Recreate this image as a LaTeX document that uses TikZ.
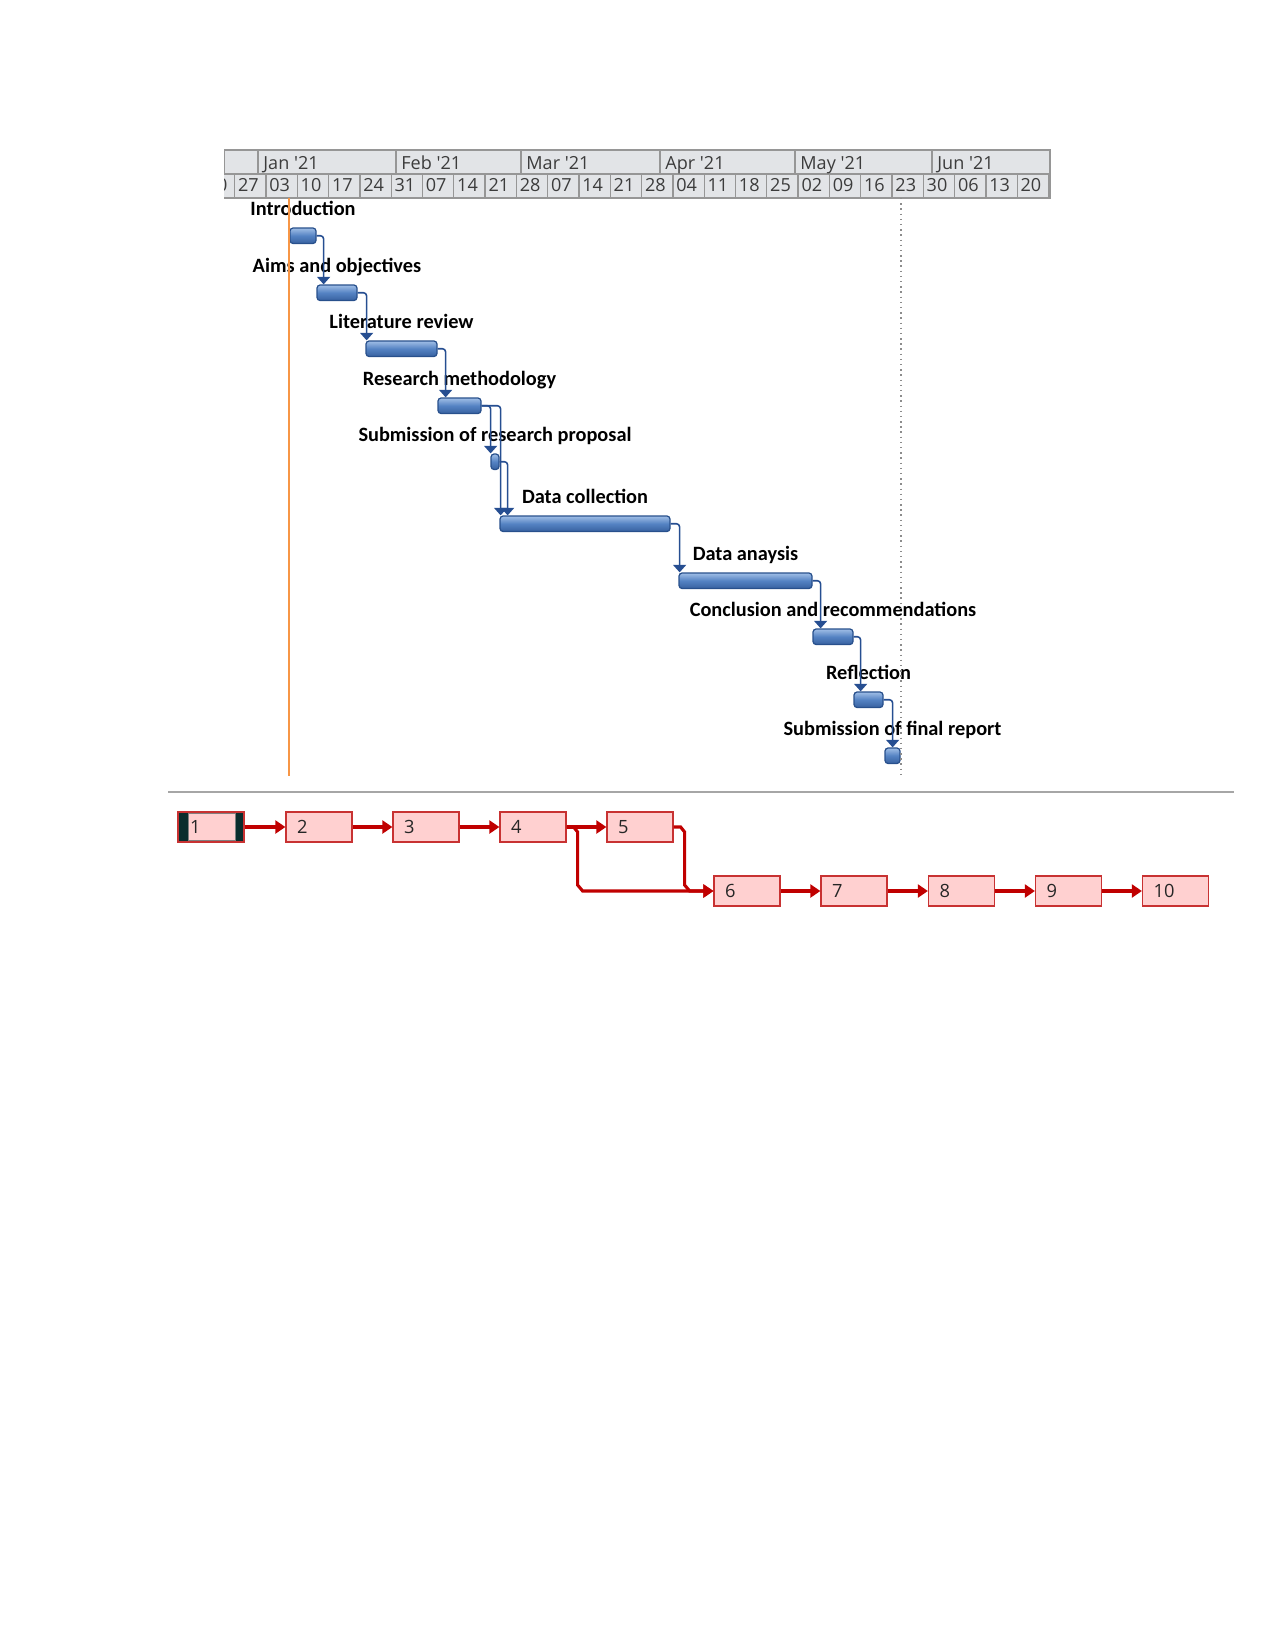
\documentclass[tikz,border=0pt]{standalone}
\usepackage{fontspec}
\usepackage{tikz}
\usetikzlibrary{calc,arrows.meta,fit}
\newfontfamily\tasklabelfont{Carlito}
\newfontfamily\scalefont{Open Sans}
\definecolor{barLight}{RGB}{160,190,230}
\definecolor{barMid}{RGB}{84,130,195}
\definecolor{barDark}{RGB}{56,98,160}
\definecolor{barEdge}{RGB}{40,80,140}
\definecolor{linkBlue}{RGB}{38,78,145}
\definecolor{headFill}{RGB}{226,228,231}
\definecolor{headLine}{RGB}{150,150,150}
\definecolor{headText}{RGB}{60,60,60}
\definecolor{todayOrange}{RGB}{247,150,70}
\definecolor{netRed}{RGB}{192,0,0}
\definecolor{netPink}{RGB}{255,208,208}
\definecolor{netEdge}{RGB}{200,50,50}
\definecolor{netDark}{RGB}{10,45,45}
\tikzset{
  bar/.style={draw=barEdge, line width=0.6pt, rounded corners=1.5pt, inner sep=0pt,
    top color=barLight, bottom color=barDark, middle color=barMid},
  tasklabel/.style={font=\tasklabelfont\bfseries\fontsize{9.8}{11}\selectfont,
    text=black, anchor=base, inner sep=0pt},
  link/.style={draw=linkBlue, line width=0.75pt, rounded corners=1.5pt,
    -{Triangle[width=6.2pt,length=3.6pt]}},
  monthlabel/.style={font=\scalefont\fontsize{8.7}{10}\selectfont, text=headText,
    anchor=base west, inner sep=0pt},
  weeklabel/.style={font=\scalefont\fontsize{8.7}{10}\selectfont, text=headText,
    anchor=base west, inner sep=0pt},
  netbox/.style={draw=netEdge, fill=netPink, line width=0.7pt, minimum height=14.4pt,
    text width=21.1pt, inner xsep=5.3pt, inner ysep=0pt, align=left,
    font=\scalefont\fontsize{8.8}{10}\selectfont, text=black!85},
  selbox/.style={draw=netEdge, fill=netDark, line width=0.7pt, inner sep=0pt},
  selinner/.style={draw=black!50, fill=netPink, line width=0.4pt, inner sep=0pt},
  netlink/.style={draw=netRed, line width=1.5pt, -{Triangle[width=6.2pt,length=4.8pt]}}
}
\begin{document}
\begin{tikzpicture}[x=0.016933cm,y=-0.016933cm]
    \useasboundingbox (0,0) rectangle (1275,1650);

    % timescale
    \begin{scope}
      \clip (224,150) rectangle (1050,198.5);
      \fill[headFill] (224,150) rectangle (1050,198);
      \foreach \k/\wk in {-2/20,-1/27,0/03,1/10,2/17,3/24,4/31,5/07,6/14,7/21,8/28,
          9/07,10/14,11/21,12/28,13/04,14/11,15/18,16/25,17/02,18/09,19/16,20/23,
          21/30,22/06,23/13,24/20} {
        \draw[headLine, line width=0.6pt] ({266+(\k)*31.3},174) rectangle ++(31.3,24);
        \node[weeklabel] at ({269+(\k)*31.3},191) {\wk};
      }
      \draw[headLine, line width=0.6pt] (224,150) rectangle (258,174);
      \draw[headLine, line width=0.6pt] (258,150) rectangle (396,174);
      \draw[headLine, line width=0.6pt] (396,150) rectangle (521,174);
      \draw[headLine, line width=0.6pt] (521,150) rectangle (660,174);
      \draw[headLine, line width=0.6pt] (660,150) rectangle (795,174);
      \draw[headLine, line width=0.6pt] (795,150) rectangle (932,174);
      \draw[headLine, line width=0.6pt] (932,150) rectangle (1050,174);
    \end{scope}
    \draw[headLine, line width=0.8pt] (224,150) -- (1050,150) -- (1050,198) -- (224,198);
    \node[monthlabel] at (263,169) {Jan \textquotesingle21};
    \node[monthlabel] at (401,169) {Feb \textquotesingle21};
    \node[monthlabel] at (526,169) {Mar \textquotesingle21};
    \node[monthlabel] at (665,169) {Apr \textquotesingle21};
    \node[monthlabel] at (800,169) {May \textquotesingle21};
    \node[monthlabel] at (937,169) {Jun \textquotesingle21};

    % task bars
    \node[bar, fit={(290,228) (316,243.5)}] (b1) {};
    \node[bar, fit={(317,285) (357,300.5)}] (b2) {};
    \node[bar, fit={(366,341) (437,356.5)}] (b3) {};
    \node[bar, fit={(438,398) (481,413.5)}] (b4) {};
    \node[bar, fit={(491,454) (499,469.5)}] (b5) {};
    \node[bar, fit={(500,516) (670,531.5)}] (b6) {};
    \node[bar, fit={(679,573) (812,588.5)}] (b7) {};
    \node[bar, fit={(813,629) (853,644.5)}] (b8) {};
    \node[bar, fit={(854,692) (883,707.5)}] (b9) {};
    \node[bar, fit={(885,748) (900,763.5)}] (b10) {};

    % task names
    \node[tasklabel] (l1) at ($(b1.north)+(0,-11.5)$) {Introduction};
    \node[tasklabel] (l2) at ($(b2.north)+(0,-11.5)$) {Aims and objectives};
    \node[tasklabel] (l3) at ($(b3.north)+(0,-11.5)$) {Literature review};
    \node[tasklabel] (l4) at ($(b4.north)+(0,-11.5)$) {Research methodology};
    \node[tasklabel] (l5) at ($(b5.north)+(0,-11.5)$) {Submission of research proposal};
    \node[tasklabel] (l6) at ($(b6.north)+(0,-11.5)$) {Data collection};
    \node[tasklabel] (l7) at ($(b7.north)+(0,-11.5)$) {Data anaysis};
    \node[tasklabel] (l8) at ($(b8.north)+(0,-11.5)$) {Conclusion and recommendations};
    \node[tasklabel] (l9) at ($(b9.north)+(0,-11.5)$) {Reflection};
    \node[tasklabel] (l10) at ($(b10.north)+(0,-11.5)$) {Submission of final report};

    % links
    \draw[link] (b1.east) -- ++(7,0) coordinate (c1) -- (c1 |- b2.north);
    \draw[link] (b2.east) -- ++(9,0) coordinate (c2) -- (c2 |- b3.north);
    \draw[link] (b3.east) -- ++(8,0) coordinate (c3) -- (c3 |- b4.north);
    \draw[link] (b4.east) -- ++(9,0) coordinate (c4) -- (c4 |- b5.north);
    \draw[link] (b4.east) -- ++(19,0) coordinate (c4b) -- (c4b |- b6.north);
    \draw[link] (b5.east) -- ++(8,0) coordinate (c5) -- (c5 |- b6.north);
    \draw[link] (b6.east) -- ++(9,0) coordinate (c6) -- (c6 |- b7.north);
    \draw[link] (b7.east) -- ++(8,0) coordinate (c7) -- (c7 |- b8.north);
    \draw[link] (b8.east) -- ++(7,0) coordinate (c8) -- (c8 |- b9.north);
    \draw[link] (b9.east) -- ++(9,0) coordinate (c9) -- (c9 |- b10.north);

    % start and status lines
    \draw[todayOrange, line width=0.8pt] (289,198) -- (289,776);
    \draw[black!45, line width=0.7pt, dash pattern=on 0.7pt off 1.8pt] (901,198) -- (901,777);

    \draw[black!35, line width=0.7pt] (168,792) -- (1234,792);

    % network
    \node[selbox, fit={(178,812) (244,842)}] (n1) {};
    \node[selinner, fit={(188,813.5) (235,840.5)}] (n1in) {};
    \node[anchor=west, inner sep=0pt, font=\scalefont\fontsize{8.8}{10}\selectfont,
      text=black!85] (n1txt) at ($(n1in.west)+(2,0)$) {1};
    \node[netbox] (n2) at (319,827) {2};
    \node[netbox] (n3) at (426,827) {3};
    \node[netbox] (n4) at (533,827) {4};
    \node[netbox] (n5) at (640,827) {5};
    \node[netbox] (n6) at (747,891) {6};
    \node[netbox] (n7) at (854,891) {7};
    \node[netbox] (n8) at (961.5,891) {8};
    \node[netbox] (n9) at (1068.5,891) {9};
    \node[netbox] (n10) at (1175.5,891) {10};

    \draw[netlink] (n1) -- (n2);
    \draw[netlink] (n2) -- (n3);
    \draw[netlink] (n3) -- (n4);
    \draw[netlink] (n4) -- (n5);
    \draw[netlink] (n4.east) -- ++(7,0) -- ++(4,5) -- ++(0,53) -- ++(5,6) -- (n6.west);
    \draw[netlink] (n5.east) -- ++(7,0) -- ++(4,5) -- ++(0,53) -- ++(5,6) -- (n6.west);
    \draw[netlink] (n6) -- (n7);
    \draw[netlink] (n7) -- (n8);
    \draw[netlink] (n8) -- (n9);
    \draw[netlink] (n9) -- (n10);
\end{tikzpicture}
\end{document}
